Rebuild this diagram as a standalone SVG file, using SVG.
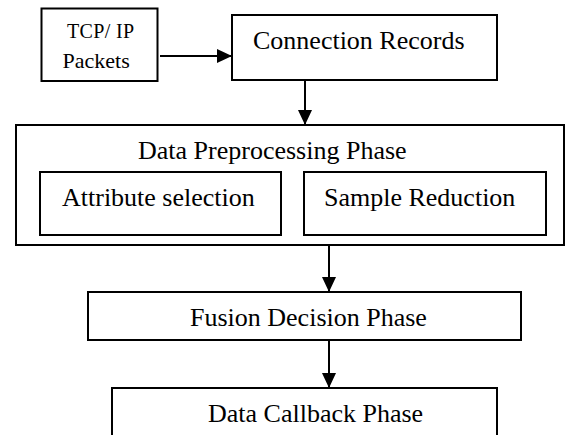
<svg xmlns="http://www.w3.org/2000/svg" width="565" height="435" viewBox="0 0 565 435">
<style>
.box{fill:#fff;stroke:#000;stroke-width:2}
.t{font-family:"Liberation Serif","Times New Roman",serif;font-size:26px;fill:#000}
.s{font-family:"Liberation Serif","Times New Roman",serif;font-size:20px;fill:#000}
.c{stroke:#000;stroke-width:2;fill:none}
</style>
<defs>
<marker id="ah" markerUnits="userSpaceOnUse" markerWidth="16" markerHeight="15" refX="15" refY="7" orient="auto">
<path d="M0,0 L15,7 L0,14 z" fill="#000"/>
</marker>
</defs>
<rect width="565" height="435" fill="#fff"/>
<g id="tcp">
<rect class="box" x="41.5" y="8.5" width="116" height="72.5"/>
<text class="s" x="67" y="38" textLength="67" lengthAdjust="spacing">TCP/ IP</text>
<text class="s" x="62.5" y="68" style="font-size:22px">Packets</text>
</g>
<g id="conn">
<rect class="box" x="232" y="15" width="265" height="65"/>
<text class="t" x="253" y="49">Connection Records</text>
</g>
<g id="prep">
<rect class="box" x="16" y="125" width="548" height="120"/>
<text class="t" x="138" y="159">Data Preprocessing Phase</text>
</g>
<g id="attr">
<rect class="box" x="40" y="172" width="241" height="63"/>
<text class="t" x="62" y="206">Attribute selection</text>
</g>
<g id="sample">
<rect class="box" x="304" y="172" width="242" height="63"/>
<text class="t" x="324" y="206">Sample Reduction</text>
</g>
<g id="fusion">
<rect class="box" x="88" y="292" width="433" height="48"/>
<text class="t" x="190" y="326">Fusion Decision Phase</text>
</g>
<g id="callback">
<rect class="box" x="112" y="388" width="385" height="70"/>
<text class="t" x="208" y="422">Data Callback Phase</text>
</g>
<g id="connectors">
<line class="c" x1="160" y1="56" x2="232" y2="56" marker-end="url(#ah)"/>
<line class="c" x1="305" y1="80" x2="305" y2="125" marker-end="url(#ah)"/>
<line class="c" x1="329" y1="245" x2="329" y2="292" marker-end="url(#ah)"/>
<line class="c" x1="329" y1="340" x2="329" y2="388" marker-end="url(#ah)"/>
</g>
</svg>
